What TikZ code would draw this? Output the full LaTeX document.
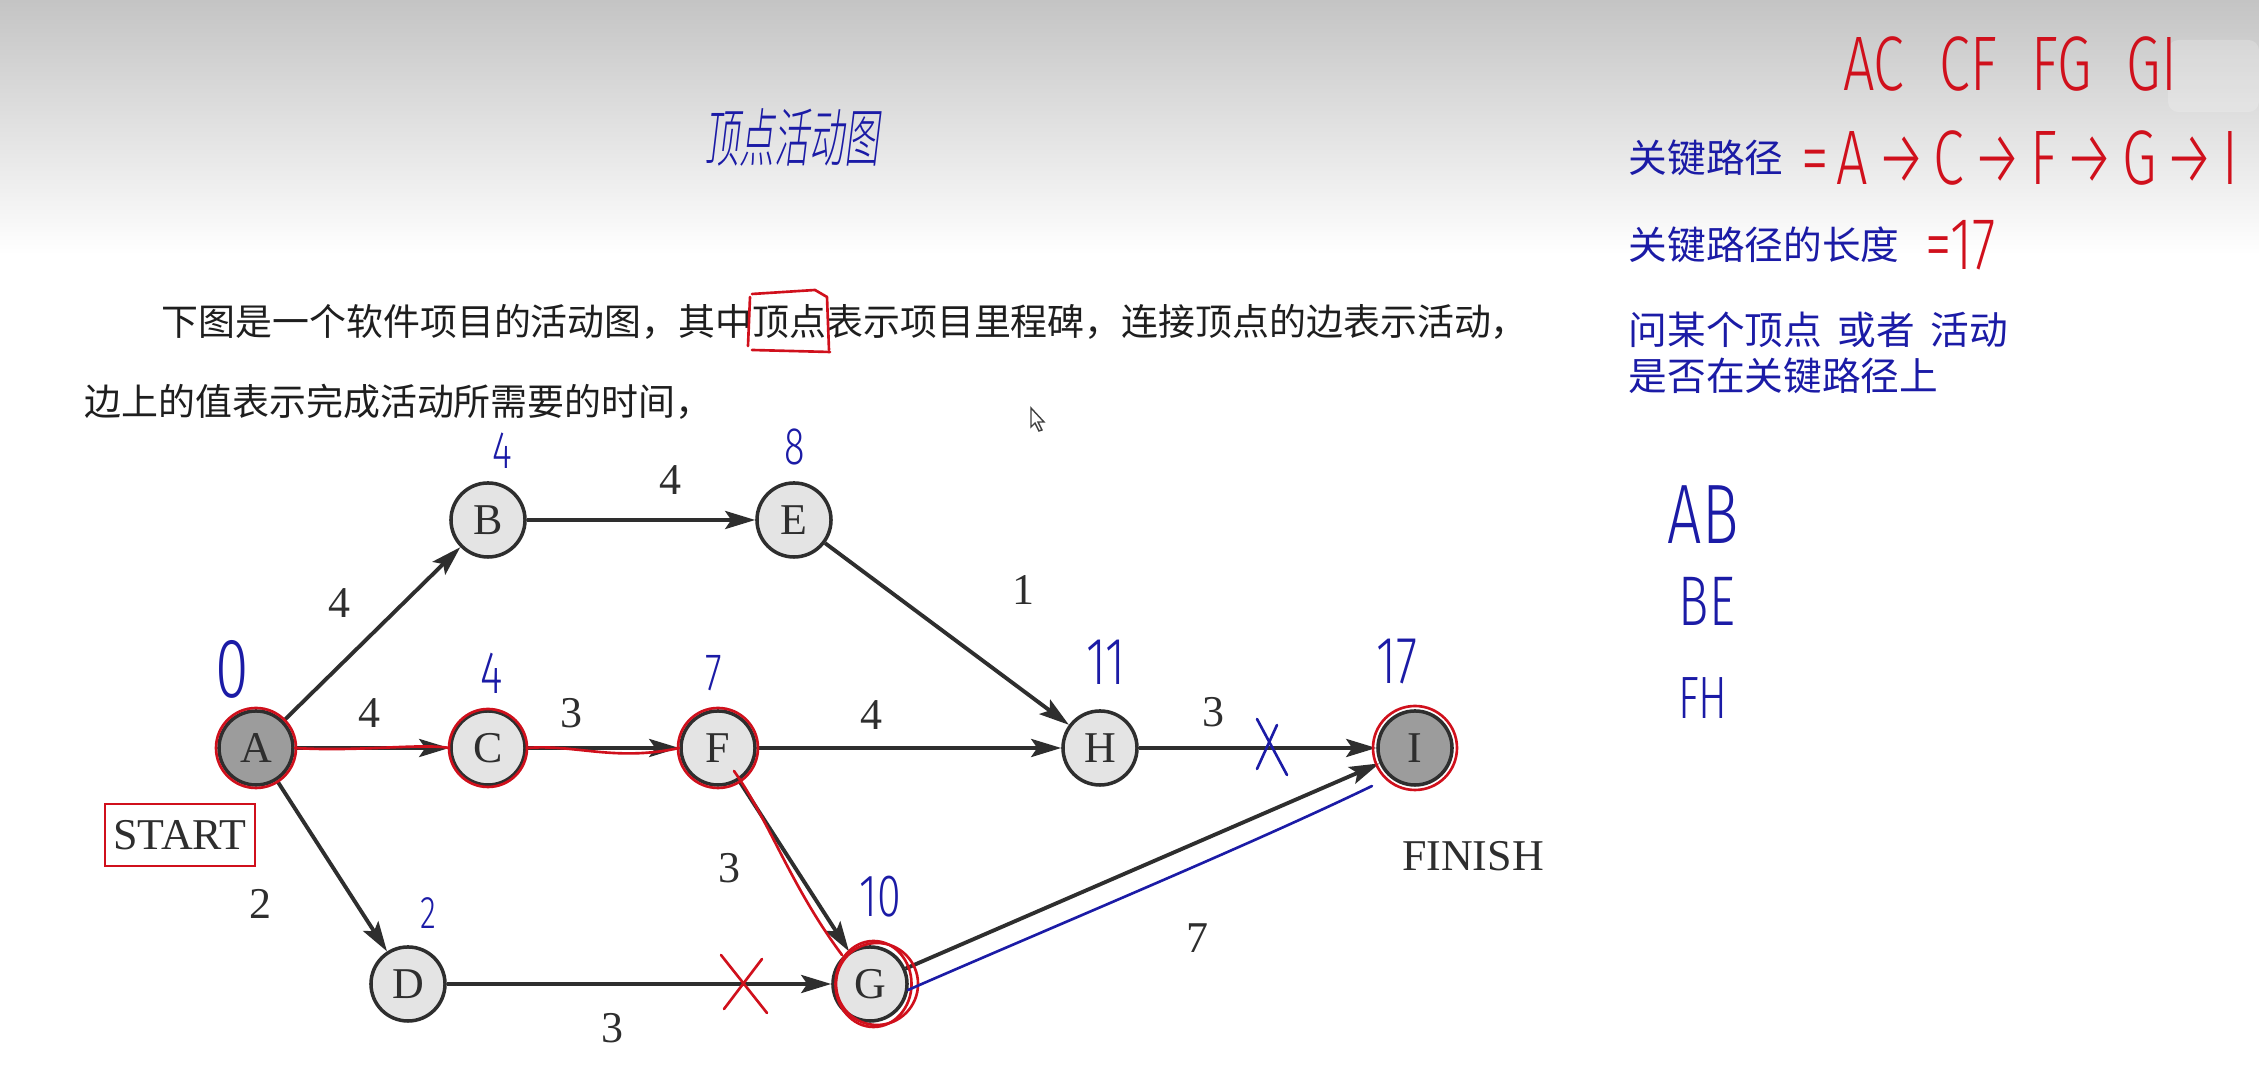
\documentclass[tikz,border=0pt]{standalone}
\usepackage{fontspec}
\setmainfont{Liberation Serif}
\newfontfamily\cjk{Noto Sans CJK SC}
\IfFontExistsTF{Fira Sans Light}
    {\newfontfamily\hand[FakeStretch=0.72]{Fira Sans Light}}
    {\newfontfamily\hand[FakeStretch=0.72]{DejaVu Sans}}
\IfFontExistsTF{Noto Sans CJK SC Light}
    {\newfontfamily\handcjk[FakeStretch=0.55, FakeSlant=0.12]{Noto Sans CJK SC Light}}
    {\newfontfamily\handcjk[FakeStretch=0.55, FakeSlant=0.12]{Noto Sans CJK SC}}
\usetikzlibrary{arrows.meta}
\definecolor{cHead}{HTML}{C4C4C4}
\definecolor{cText}{HTML}{1E1E1E}
\definecolor{cEdge}{HTML}{2E2E2E}
\definecolor{cNode}{HTML}{E4E4E4}
\definecolor{cEnd}{HTML}{9C9C9C}
\definecolor{cRed}{HTML}{D0101C}
\definecolor{cBlue}{HTML}{1B1BA6}

\begin{document}
\begin{tikzpicture}[
    x=0.01cm, y=-0.01cm,
    font=\fontsize{12.5}{12.5}\selectfont,
    vertex/.style={circle, draw=cEdge, line width=1pt, fill=cNode, text=cEdge,
        minimum size=0.74cm, inner sep=0pt},
    endvertex/.style={vertex, fill=cEnd},
    arr/.style={-{Stealth[length=3mm, width=1.8mm, inset=0.6mm]}, draw=cEdge, line width=1.1pt},
    lbl/.style={text=cEdge, inner sep=0pt, midway},
    para/.style={font=\cjk\fontsize{10.5}{10.5}\selectfont, text=cText, anchor=west, inner sep=0pt},
    say/.style={font=\cjk\fontsize{11}{11}\selectfont, text=cBlue, anchor=west, inner sep=0pt},
    hw/.style={font=\hand\fontsize{#1}{#1}\selectfont, inner sep=0pt},
    redpen/.style={draw=cRed, line width=0.75pt, line cap=round, line join=round},
    bluepen/.style={draw=cBlue, line width=0.75pt, line cap=round, line join=round},
]

% ---------------------------------------------------------------- page
\fill[white] (0,0) rectangle (2259,1083);
\useasboundingbox (0,0) rectangle (2259,1083);
\fill[top color=cHead, bottom color=white] (0,0) rectangle (2259,255);
\fill[white, opacity=0.2, rounded corners=3pt] (2168,40) rectangle (2259,112);

\node (title) [font=\handcjk\fontsize{18}{18}\selectfont, text=cBlue] at (792,137) {顶点活动图};

\node (para1) [para] at (161,322) {下图是一个软件项目的活动图，其中顶点表示项目里程碑，连接顶点的边表示活动，};
\node (para2) [para] at (84,402)  {边上的值表示完成活动所需要的时间，};
\draw[redpen] (752,294) -- (815,290) -- (827,297) -- (829,350);
\draw[redpen] (750,297) -- (748,346);
\draw[redpen] (752,350) -- (830,352);
\draw[black!75, fill=white, line width=0.4pt] (1031,408) -- (1031,427) -- (1035,423) -- (1039,431)
    -- (1042,430) -- (1038,422) -- (1044,422) -- cycle;

% ---------------------------------------------------------------- graph
\node (A) [endvertex] at (256,748)  {A};
\node (B) [vertex]    at (488,520)  {B};
\node (C) [vertex]    at (488,748)  {C};
\node (D) [vertex]    at (408,984)  {D};
\node (E) [vertex]    at (794,520)  {E};
\node (F) [vertex]    at (718,748)  {F};
\node (G) [vertex]    at (870,984)  {G};
\node (H) [vertex]    at (1100,748) {H};
\node (I) [endvertex] at (1415,748) {I};

\node (start)  [draw=cRed, line width=0.75pt, text=cEdge, minimum width=1.5cm, minimum height=0.62cm,
    inner sep=0pt] at (180,835) {START};
\node (finish) [text=cEdge] at (1473,856) {FINISH};

\draw [arr] (A) -- node[lbl, shift={(-33,-31)}] {4} (B);
\draw [arr] (B) -- node[lbl, shift={(29,-40)}]  {4} (E);
\draw [arr] (E) -- node[lbl, shift={(76,-44)}]  {1} (H);
\draw [arr] (A) -- node[lbl, shift={(-3,-35)}]  {4} (C);
\draw [arr] (C) -- node[lbl, shift={(-32,-35)}] {3} (F);
\draw [arr] (F) -- node[lbl, shift={(-38,-33)}] {4} (H);
\draw [arr] (H) -- node[lbl, shift={(-44,-36)}] {3} (I);
\draw [arr] (A) -- node[lbl, shift={(-72,38)}]  {2} (D);
\draw [arr] (F) -- node[lbl, shift={(-65,2)}]   {3} (G);
\draw [arr] (D) -- node[lbl, shift={(-27,44)}]  {3} (G);
\draw [arr] (G) -- node[lbl, shift={(55,72)}]   {7} (I);

% ---------------------------------------------------------------- earliest times
\node (tA) [hw=24, text=cBlue] at (232,669)  {0};
\node (tB) [hw=15, text=cBlue] at (502,451)  {4};
\node (tE) [hw=15, text=cBlue] at (795,447)  {8};
\node (tC) [hw=17, text=cBlue] at (492,673)  {4};
\node (tF) [hw=15, text=cBlue] at (714,673)  {7};
\node (tH) [hw=19, text=cBlue] at (1106,662) {11};
\node (tI) [hw=19, text=cBlue] at (1397,662) {17};
\node (tD) [hw=13, text=cBlue] at (428,913)  {2};
\node (tG) [hw=17, text=cBlue] at (880,897)  {10};

% ---------------------------------------------------------------- critical path marks
\draw[redpen] (A) circle (40);
\draw[redpen] (C) circle (39);
\draw[redpen] (F) circle (40);
\draw[redpen] ([xshift=2pt]G.center) circle (41);
\draw[redpen] ([xshift=1pt]G.center) ellipse [x radius=38, y radius=43];
\draw[redpen] (I) circle (42);
\draw[redpen] (A.east) .. controls (360,752) and (420,743) .. (C.west);
\draw[redpen] (C.east) .. controls (575,744) and (615,762) .. (F.west);
\draw[redpen] (734,771) .. controls (770,822) and (790,885) .. (842,955);
\draw[bluepen] (908,990) .. controls (1050,928) and (1250,845) .. (1372,786);
\draw[bluepen] (1257,719) -- (1287,775);
\draw[bluepen] (1277,725) -- (1257,769);
\draw[redpen] (721,955) -- (767,1013);
\draw[redpen] (762,959) -- (724,1009);

% ---------------------------------------------------------------- notes on the right
\node (edges) [hw=22, text=cRed] at (2010,64) {AC\hspace{0.45em}CF\hspace{0.45em}FG\hspace{0.45em}GI};
\node (kp)    [say] at (1628,158) {关键路径};
\node (kpval) [hw=22, text=cRed, anchor=west] at (1801,158)
    {\addfontfeatures{LetterSpace=10}=A→C→F→G→I};
\node (kl)    [say] at (1628,245) {关键路径的长度};
\node (klval) [hw=21, text=cRed, anchor=west] at (1925,245) {=17};
\node (ask1)  [say] at (1628,330) {问某个顶点\hspace{0.4em}或者\hspace{0.4em}活动};
\node (ask2)  [say] at (1628,376) {是否在关键路径上};

\node (ab) [hw=24, text=cBlue] at (1703,515) {AB};
\node (be) [hw=20, text=cBlue] at (1707,601) {BE};
\node (fh) [hw=17, text=cBlue] at (1703,698) {FH};

\end{tikzpicture}
\end{document}
